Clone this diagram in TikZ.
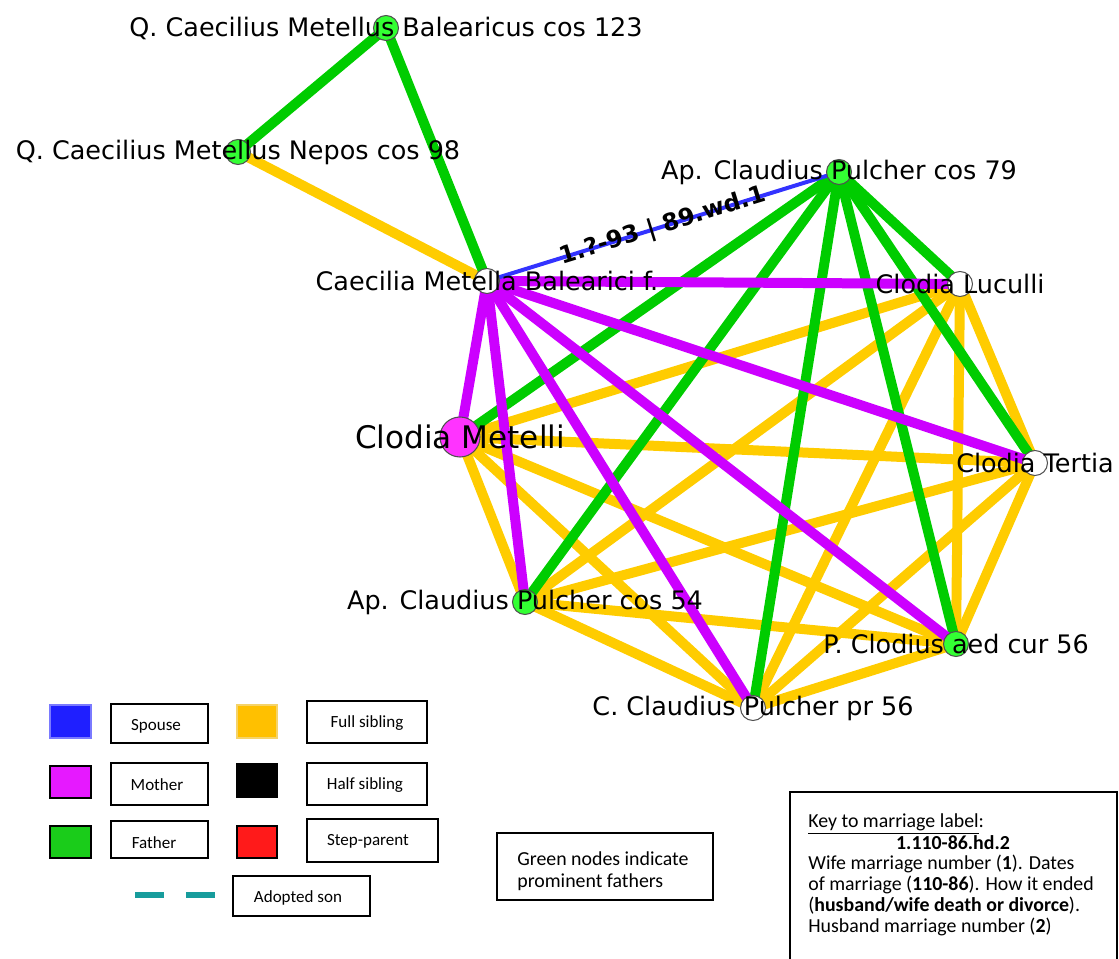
\documentclass[tikz,border=0pt]{standalone}
\usepackage{fontspec}
\setmainfont{DejaVu Sans}
\newfontfamily\keyfont{Carlito}
\pgfdeclarelayer{edges}
\pgfsetlayers{edges,main}

\definecolor{spouseblue}{HTML}{3333FF}
\definecolor{sibyellow}{HTML}{FFCC00}
\definecolor{fathergreen}{HTML}{00CC00}
\definecolor{mothermagenta}{HTML}{CC00FF}
\definecolor{nodegreen}{HTML}{33FF33}
\definecolor{nodemagenta}{HTML}{FF33FF}
\definecolor{rimgray}{HTML}{505050}
\definecolor{legblue}{HTML}{1F1FFF}
\definecolor{legblueedge}{HTML}{7A7AFF}
\definecolor{legyellow}{HTML}{FFC000}
\definecolor{legyellowedge}{HTML}{F5D36A}
\definecolor{legmagenta}{HTML}{E619FF}
\definecolor{leggreen}{HTML}{1ACC1A}
\definecolor{legred}{HTML}{FF1A1A}
\definecolor{legteal}{HTML}{179C9C}

\begin{document}
\begin{tikzpicture}[x=0.02cm, y=-0.02cm,
  person/.style={circle, draw=rimgray, line width=0.6pt, minimum size=0.5cm, inner sep=0pt},
  bigperson/.style={person, minimum size=0.8cm},
  namefont/.style={font=\fontsize{14.5}{17}\selectfont, inner sep=0pt},
  bignamefont/.style={font=\fontsize{17.7}{21}\selectfont, inner sep=0pt},
  rel/.style={line width=0.2cm, line cap=butt},
  sib/.style={rel, sibyellow},
  fath/.style={rel, fathergreen},
  moth/.style={rel, mothermagenta},
  spouse/.style={line width=0.08cm, spouseblue},
  swatch/.style={line width=0.6pt},
  legbox/.style={draw=black, line width=0.6pt},
  legtext/.style={font=\keyfont\fontsize{9.7}{11}\selectfont, inner sep=0pt},
  keytext/.style={font=\keyfont\fontsize{11.3}{13}\selectfont, inner sep=0pt},
]
\useasboundingbox (0,0) rectangle (1119,959);

% family members
\node[person, fill=nodegreen, label={[namefont]center:Q. Caecilius Metellus Balearicus cos 123}] (bal) at (386,28) {};
\node[person, fill=nodegreen, label={[namefont]center:Q. Caecilius Metellus Nepos cos 98}] (nep) at (238,152) {};
\node[person, fill=white, label={[namefont]center:Caecilia Metella Balearici f.}] (cae) at (487,281) {};
\node[person, fill=nodegreen, label={[namefont]center:Ap. Claudius Pulcher cos 79}] (a79) at (839,172) {};
\node[person, fill=white, label={[namefont]center:Clodia Luculli}] (luc) at (960,284) {};
\node[bigperson, fill=nodemagenta, label={[bignamefont]center:Clodia Metelli}] (met) at (460,437) {};
\node[person, fill=white, label={[namefont]center:Clodia Tertia}] (ter) at (1035,463) {};
\node[person, fill=nodegreen, label={[namefont]center:Ap. Claudius Pulcher cos 54}] (a54) at (525,602) {};
\node[person, fill=nodegreen, label={[namefont]center:P. Clodius aed cur 56}] (pcl) at (956,644) {};
\node[person, fill=white, label={[namefont]center:C. Claudius Pulcher pr 56}] (ccl) at (753,708) {};

% relations, kept beneath the members
\begin{pgfonlayer}{edges}
  \draw[sib] (nep.center) -- (cae.center);
  \foreach \a/\b in {luc/met, luc/ter, luc/a54, luc/pcl, luc/ccl,
                     met/ter, met/a54, met/pcl, met/ccl,
                     ter/a54, ter/pcl, ter/ccl,
                     a54/pcl, a54/ccl, pcl/ccl}
    \draw[sib] (\a.center) -- (\b.center);
  \draw[fath] (bal.center) -- (nep.center);
  \draw[fath] (bal.center) -- (cae.center);
  \foreach \c in {luc, met, ter, a54, pcl, ccl}
    \draw[fath] (a79.center) -- (\c.center);
  \foreach \c in {luc, met, ter, a54, pcl, ccl}
    \draw[moth] (cae.center) -- (\c.center);
  \draw[spouse] (cae.center) -- node[sloped, pos=0.5, inner sep=0pt, text=black,
      font=\bfseries\fontsize{13.5}{16}\selectfont] (mlabel) {1.?-93 | 89.wd.1} (a79.center);
\end{pgfonlayer}

% legend swatches
\draw[swatch, fill=legblue, draw=legblueedge] (50,705) rectangle (91,738);
\draw[swatch, fill=legyellow, draw=legyellowedge] (237,705) rectangle (277,738);
\draw[swatch, fill=legmagenta, draw=black] (50,766) rectangle (91,798);
\draw[swatch, fill=black, draw=black] (237,764) rectangle (277,797);
\draw[swatch, fill=leggreen, draw=black] (50,826) rectangle (91,858);
\draw[swatch, fill=legred, draw=black] (237,826) rectangle (277,858);
\draw[legteal, line width=0.12cm, dash pattern=on 0.58cm off 0.44cm] (135,895) -- (215,895);

% legend captions
\draw[legbox] (111,704) rectangle (208,743);
\node[legtext] (tspouse) at (156,726) {Spouse};
\draw[legbox] (307,701) rectangle (427,743);
\node[legtext] (tfull) at (367,723) {Full sibling};
\draw[legbox] (111,763) rectangle (208,805);
\node[legtext] (tmother) at (157,785) {Mother};
\draw[legbox] (307,763) rectangle (427,805);
\node[legtext] (thalf) at (365,785) {Half sibling};
\draw[legbox] (111,821) rectangle (208,858);
\node[legtext] (tfather) at (154,843) {Father};
\draw[legbox] (307,819) rectangle (438,862);
\node[legtext] (tstep) at (368,841) {Step-parent};
\draw[legbox] (233,876) rectangle (370,916);
\node[legtext] (tadopt) at (298,898) {Adopted son};

% note on node colours
\draw[legbox] (497,833) rectangle (713,900);
\node[keytext, anchor=base west] (gn1) at (517,865) {Green nodes indicate};
\node[keytext, anchor=base west] (gn2) at (517,887) {prominent fathers};

% key to the marriage label
\draw[legbox, line width=0.8pt] (790,959) -- (790,792) -- (1117,792) -- (1117,959);
\node[keytext, anchor=base west] (k1) at (808,827) {\underline{Key to marriage label}:};
\node[keytext, anchor=base] (k2) at (953,849) {\bfseries 1.110-86.hd.2};
\node[keytext, anchor=base west] (k3) at (808,869) {Wife marriage number (\textbf{1}). Dates};
\node[keytext, anchor=base west] (k4) at (808,890) {of marriage (\textbf{110-86}). How it ended};
\node[keytext, anchor=base west] (k5) at (808,911) {(\textbf{husband/wife death or divorce}).};
\node[keytext, anchor=base west] (k6) at (808,932) {Husband marriage number (\textbf{2})};
\end{tikzpicture}
\end{document}
